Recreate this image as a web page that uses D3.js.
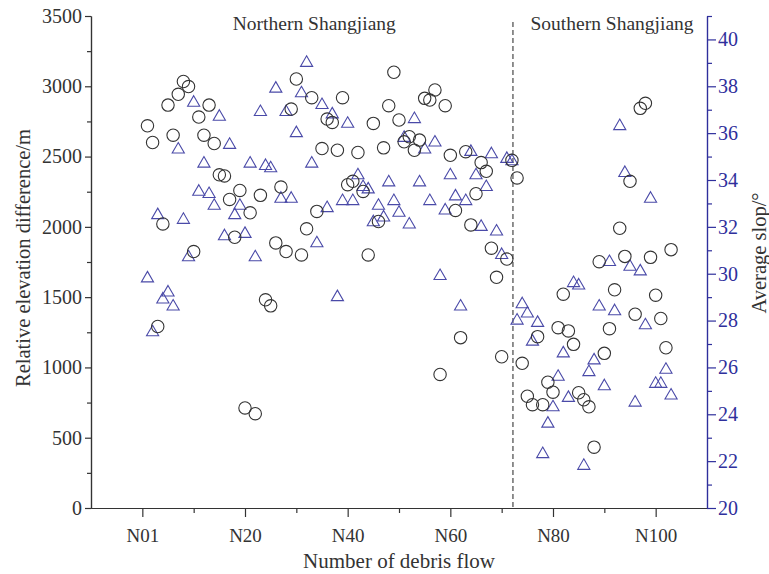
<!DOCTYPE html>
<html>
<head>
<meta charset="utf-8">
<script src="https://cdn.jsdelivr.net/npm/d3@7"></script>
<style>
  body { margin: 0; background: #fff; }
  svg { display: block; }
</style>
</head>
<body>
<div id="container"></div>
<script>
/* Define global constants */
const width = 769
const height = 574
const plotLeft = 91
const plotRight = 707
const plotTop = 16
const plotBottom = 508
const FONT = "'Liberation Serif', 'Times New Roman', serif"
const TEXTCOLOR = "#333"
const BLUE = "#2f2f9c"
const TRIANGLECOLOR = "#4a4aa8"

/* Data: value of debris flow N01..N103, in order */
const elevation = [
  2719, 2600, 1291, 2021, 2866, 2652, 2943, 3034, 2998, 1824,
  2781, 2652, 2866, 2593, 2370, 2362, 2195, 1926, 2259, 712,
  2100, 671, 2224, 1481, 1438, 1886, 2283, 1824, 2838, 3052,
  1800, 1986, 2919, 2110, 2557, 2767, 2743, 2545, 2919, 2300,
  2324, 2529, 2252, 1800, 2736, 2038, 2562, 2862, 3100, 2760,
  2605, 2641, 2545, 2617, 2914, 2902, 2974, 950, 2862, 2509,
  2117, 1212, 2535, 2014, 2236, 2457, 2395, 1848, 1641, 1076,
  1771, 2473, 2348, 1029, 795, 735, 1219, 735, 895, 824,
  1283, 1521, 1260, 1164, 820, 770, 720, 433, 1752, 1100,
  1276, 1552, 1990, 1790, 2324, 1379, 2843, 2879, 1783, 1514,
  1348, 1140, 1838
]
const slope = [
  29.8, 27.5, 32.5, 28.9, 29.2, 28.6, 35.3, 32.3, 30.7, 37.3,
  33.5, 34.7, 33.4, 32.9, 36.7, 31.6, 35.5, 32.5, 32.9, 31.7,
  34.7, 30.7, 36.9, 34.6, 34.5, 37.9, 33.2, 36.9, 33.2, 36.0,
  37.7, 39.0, 34.7, 31.3, 37.2, 32.8, 36.8, 29.0, 33.1, 36.4,
  33.1, 34.2, 33.7, 33.6, 32.2, 32.9, 32.4, 33.9, 33.1, 32.6,
  35.8, 32.1, 36.6, 33.9, 35.3, 33.1, 35.6, 29.9, 32.7, 34.2,
  33.3, 28.6, 33.1, 35.2, 34.2, 32.0, 33.7, 35.1, 31.8, 30.8,
  34.9, 34.8, 28.0, 28.7, 28.3, 27.1, 27.9, 22.3, 23.6, 24.3,
  25.6, 26.6, 24.7, 29.6, 29.5, 21.8, 25.8, 26.3, 28.6, 25.2,
  30.5, 28.4, 36.3, 34.3, 30.3, 24.5, 30.1, 27.8, 33.2, 25.3,
  25.3, 25.9, 24.8
]
const xTicks = [0, 20, 40, 60, 80, 100]
const xTickLabels = ["N01", "N20", "N40", "N60", "N80", "N100"]
const xMinorTicks = [10, 30, 50, 70, 90]
const elevTicks = [0, 500, 1000, 1500, 2000, 2500, 3000, 3500]
const elevMinorTicks = [250, 750, 1250, 1750, 2250, 2750, 3250]
const slopeTicks = [20, 22, 24, 26, 28, 30, 32, 34, 36, 38, 40]
const slopeMinorTicks = [21, 23, 25, 27, 29, 31, 33, 35, 37, 39, 41]
const divideAt = 72.2
const regionLabels = ["Northern Shangjiang", "Southern Shangjiang"]
const regionCenters = [33.5, 91.5]

/* Scales */
const x = d3.scaleLinear().domain([-10, 110]).range([plotLeft, plotRight])
const yElev = d3.scaleLinear().domain([0, 3500]).range([plotBottom, plotTop])
const ySlope = d3.scaleLinear().domain([20, 41]).range([plotBottom, plotTop])

const svg = d3.select("#container")
  .append("svg")
  .attr("width", width)
  .attr("height", height)

const styleAxis = (g, color, size) => {
  g.select(".domain").attr("stroke", color).attr("stroke-width", 1.2)
  g.selectAll(".tick line").attr("stroke", color).attr("stroke-width", 1.2)
  g.selectAll(".tick text")
    .attr("fill", color)
    .attr("font-family", FONT)
    .attr("font-size", size)
}

/* minor ticks first, majors on top */
svg.append("g")
  .attr("transform", "translate(0," + plotBottom + ")")
  .call(d3.axisBottom(x).tickValues(xMinorTicks).tickSize(5).tickSizeOuter(0).tickFormat(""))
  .call(g => styleAxis(g, TEXTCOLOR, 19))
svg.append("g")
  .attr("transform", "translate(0," + plotBottom + ")")
  .call(d3.axisBottom(x).tickValues(xTicks).tickSize(9).tickSizeOuter(0).tickPadding(12)
    .tickFormat((d, i) => xTickLabels[i]))
  .call(g => styleAxis(g, TEXTCOLOR, 19))

svg.append("g")
  .attr("transform", "translate(" + plotLeft + ",0)")
  .call(d3.axisLeft(yElev).tickValues(elevMinorTicks).tickSize(4).tickSizeOuter(0).tickFormat(""))
  .call(g => styleAxis(g, TEXTCOLOR, 20))
svg.append("g")
  .attr("transform", "translate(" + plotLeft + ",0)")
  .call(d3.axisLeft(yElev).tickValues(elevTicks).tickSize(6).tickSizeOuter(0).tickPadding(3)
    .tickFormat(d3.format("d")))
  .call(g => styleAxis(g, TEXTCOLOR, 20))

svg.append("g")
  .attr("transform", "translate(" + plotRight + ",0)")
  .call(d3.axisRight(ySlope).tickValues(slopeMinorTicks).tickSize(5).tickSizeOuter(0).tickFormat(""))
  .call(g => styleAxis(g, BLUE, 20))
svg.append("g")
  .attr("transform", "translate(" + plotRight + ",0)")
  .call(d3.axisRight(ySlope).tickValues(slopeTicks).tickSize(9).tickSizeOuter(0).tickPadding(2))
  .call(g => styleAxis(g, BLUE, 20))

/* dividing line between the two regions */
svg.append("line")
  .attr("x1", x(divideAt)).attr("x2", x(divideAt))
  .attr("y1", 22).attr("y2", plotBottom)
  .attr("stroke", "#222")
  .attr("stroke-width", 1)
  .attr("stroke-dasharray", "5,3")

/* region labels */
svg.selectAll(".region")
  .data(regionLabels)
  .enter()
  .append("text")
  .attr("class", "region")
  .attr("x", (d, i) => x(regionCenters[i]))
  .attr("y", 30)
  .attr("text-anchor", "middle")
  .attr("font-family", FONT)
  .attr("font-size", 19.5)
  .attr("fill", TEXTCOLOR)
  .text(d => d)

/* slope triangles */
const tri = d3.symbol().type(d3.symbolTriangle).size(64)
svg.selectAll(".slope")
  .data(slope)
  .enter()
  .append("path")
  .attr("class", "slope")
  .attr("d", tri)
  .attr("transform", (d, i) => "translate(" + x(i + 1) + "," + ySlope(d) + ")")
  .attr("fill", "none")
  .attr("stroke", TRIANGLECOLOR)
  .attr("stroke-width", 1.1)

/* elevation circles */
svg.selectAll(".elev")
  .data(elevation)
  .enter()
  .append("circle")
  .attr("class", "elev")
  .attr("cx", (d, i) => x(i + 1))
  .attr("cy", d => yElev(d))
  .attr("r", 6.2)
  .attr("fill", "none")
  .attr("stroke", "#333")
  .attr("stroke-width", 1.1)

/* axis titles */
svg.append("text")
  .attr("transform", "translate(30,258) rotate(-90)")
  .attr("text-anchor", "middle")
  .attr("font-family", FONT)
  .attr("font-size", 20.5)
  .attr("fill", TEXTCOLOR)
  .text("Relative elevation difference/m")
svg.append("text")
  .attr("transform", "translate(766,253) rotate(-90)")
  .attr("text-anchor", "middle")
  .attr("font-family", FONT)
  .attr("font-size", 20.5)
  .attr("fill", TEXTCOLOR)
  .text("Average slop/°")
svg.append("text")
  .attr("x", (plotLeft + plotRight) / 2)
  .attr("y", 568)
  .attr("text-anchor", "middle")
  .attr("font-family", FONT)
  .attr("font-size", 21)
  .attr("fill", TEXTCOLOR)
  .text("Number of debris flow")
</script>
</body>
</html>
